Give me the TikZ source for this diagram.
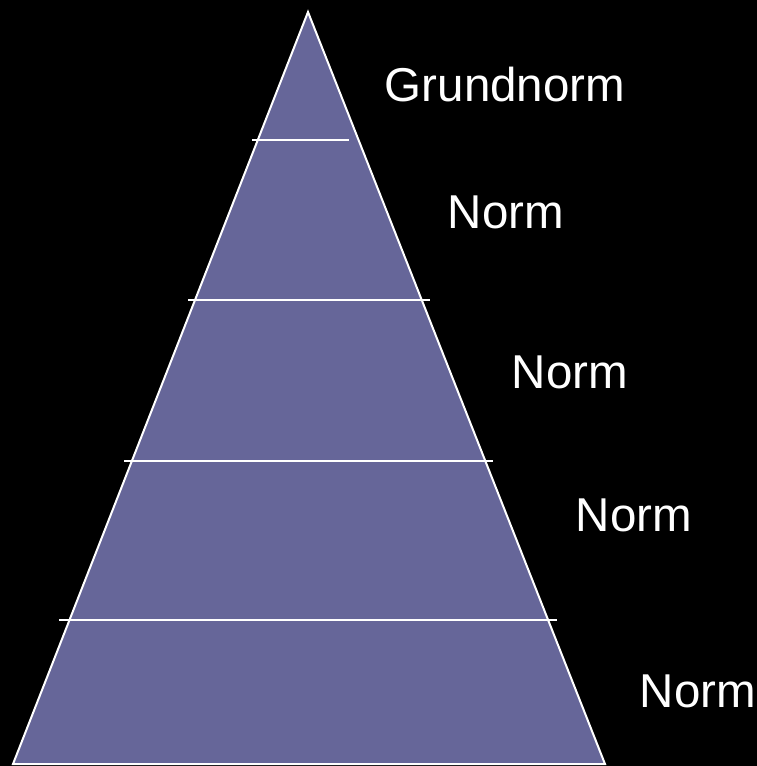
\documentclass[tikz,border=0pt]{standalone}
\usepackage{fontspec}
\setmainfont{Liberation Sans}
\definecolor{pyr}{HTML}{666699}
\begin{document}
\begin{tikzpicture}[x=1pt,y=-1pt,
  edge/.style={draw=white,line width=2pt},
  lbl/.style={text=white,font=\fontsize{47.5}{50}\selectfont,anchor=base,inner sep=0pt}]
\fill[black] (0,0) rectangle (757,766);
\useasboundingbox (0,0) rectangle (757,766);
\coordinate (apex) at (308,12);
\coordinate (bl) at (13,764);
\coordinate (br) at (605,764);
\filldraw[fill=pyr,draw=white,line width=2pt,line join=miter] (apex) -- (br) -- (bl) -- cycle;
\coordinate (l1a) at (252,140); \coordinate (l1b) at (349,140);
\coordinate (l2a) at (188,300); \coordinate (l2b) at (430,300);
\coordinate (l3a) at (124,461); \coordinate (l3b) at (493,461);
\coordinate (l4a) at (59,620);  \coordinate (l4b) at (557,620);
\draw[edge] (l1a) -- (l1b);
\draw[edge] (l2a) -- (l2b);
\draw[edge] (l3a) -- (l3b);
\draw[edge] (l4a) -- (l4b);
\node[lbl] (t0) at (505,101) {Grundnorm};
\node[lbl] (t1) at (506,228) {Norm};
\node[lbl] (t2) at (570,388) {Norm};
\node[lbl] (t3) at (634,531) {Norm};
\node[lbl] (t4) at (698,707) {Norm};
\end{tikzpicture}
\end{document}
